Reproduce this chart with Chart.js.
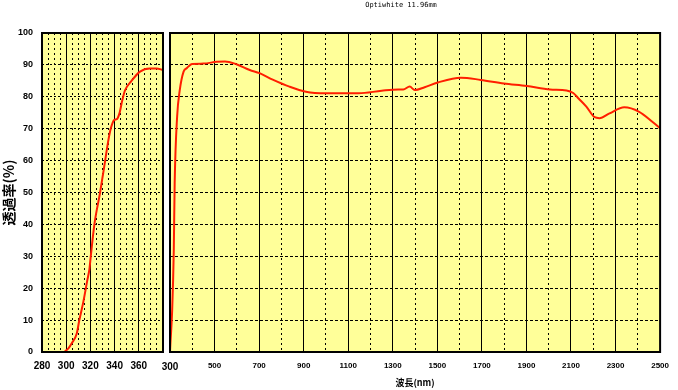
<!DOCTYPE html>
<html>
<head>
<meta charset="utf-8">
<script src="https://cdn.jsdelivr.net/npm/chart.js@4"></script>
<style>
  body { margin: 0; background: #fff; }
  #wrap { position: relative; width: 678px; height: 390px; }
  #wrap canvas { position: absolute; left: 0; top: 0; }
  #title { position: absolute; left: 341px; top: 1px; width: 120px; text-align: center;
           font: 7px 'DejaVu Sans Mono', monospace; line-height: 8px; color: #000; }
</style>
</head>
<body>
<div id="wrap">
  <canvas id="right-chart" width="678" height="390"></canvas>
  <canvas id="left-chart" width="678" height="390"></canvas>
  <div id="title">Optiwhite 11.96mm</div>
</div>
<script>
// left panel: 280-380 nm, zoomed UV edge
const leftWavelength = [280, 290, 298, 300, 302, 304.7, 308.8, 310.7, 314.2, 317.5, 319.2, 320.3, 323.3, 328, 332.2, 334.9, 336.8, 339.6, 341.9, 344, 346.4, 348.6, 354, 361, 369, 374.6, 380];
const leftTransmit = [0, 0, 0, 0.5, 1.2, 2.8, 5.9, 9.7, 15.8, 22.6, 26, 30, 40, 50, 60, 66.5, 70, 72.7, 73, 74.8, 79, 82, 85, 87.9, 88.9, 88.9, 88.4];

// right panel: 300-2500 nm
const rightWavelength = [300, 302, 309.7, 317, 321, 332, 343.6, 361, 376, 398.6, 450, 510, 547, 598, 658, 702, 761, 836, 910, 998, 1147, 1250, 1324, 1347, 1376, 1399, 1443, 1502, 1606, 1695, 1799, 1902, 2006, 2080, 2110, 2135, 2169, 2206, 2228, 2273, 2339, 2406, 2465, 2500];
const rightTransmit = [0, 2.8, 13, 32, 53, 73.8, 82, 87.9, 89, 90.3, 90.4, 91, 91.1, 90.2, 88.4, 87.4, 85.4, 83.2, 81.6, 81.1, 81.1, 81.9, 82.3, 82.3, 83.2, 82.1, 83, 84.5, 86, 85.3, 84.2, 83.4, 82.3, 82, 81.2, 79.4, 76.9, 73.6, 73.3, 74.8, 76.7, 75.3, 72.2, 70.1];

const leftTicks = [280, 300, 320, 340, 360, 380];
const leftTickLabels = ['280', '300', '320', '340', '360', ''];
const rightTicks = [300, 500, 700, 900, 1100, 1300, 1500, 1700, 1900, 2100, 2300, 2500];

const FONT = "'Liberation Sans', Arial, sans-serif";
const CJK = "'Noto Sans CJK JP', sans-serif";
const LINE = '#ff1e00';

const panelFrame = {
    id: 'panelFrame',
    beforeDraw(chart) {
        const { ctx, chartArea: a } = chart;
        ctx.save();
        ctx.fillStyle = '#ffff99';
        ctx.fillRect(a.left, a.top, a.width, a.height);
        ctx.restore();
    },
    afterDraw(chart) {
        const { ctx, chartArea: a } = chart;
        ctx.save();
        ctx.strokeStyle = '#000';
        ctx.lineWidth = 2;
        ctx.strokeRect(a.left, a.top, a.width, a.height);
        ctx.restore();
    }
};

function curve(xs, ys) {
    return {
        data: xs.map((x, i) => ({ x, y: ys[i] })),
        borderColor: LINE,
        borderWidth: 2,
        pointRadius: 0,
        fill: false,
        cubicInterpolationMode: 'monotone',
        xAxisID: 'x',
        yAxisID: 'y'
    };
}

function minorAxis(min, max, step) {
    return {
        type: 'linear', position: 'bottom', min, max,
        ticks: { display: false, stepSize: step },
        grid: { color: '#000', lineWidth: 1, drawTicks: false },
        border: { display: false, dash: [2, 3] },
        afterFit: s => { s.height = 0; }
    };
}

new Chart(document.getElementById('left-chart'), {
    type: 'line',
    data: { datasets: [curve(leftWavelength, leftTransmit)] },
    options: {
        responsive: false,
        animation: false,
        layout: { padding: { left: 0, top: 33, right: 515, bottom: 0 } },
        plugins: { legend: { display: false }, tooltip: { enabled: false } },
        scales: {
            xm: minorAxis(280, 380, 5),
            x: {
                type: 'linear', position: 'bottom', min: 280, max: 380,
                afterBuildTicks: s => { s.ticks = leftTicks.map(v => ({ value: v })); },
                ticks: {
                    color: '#000', padding: 8, maxRotation: 0, autoSkip: false,
                    font: { family: FONT, size: 10, weight: 'bold' },
                    callback: v => leftTickLabels[leftTicks.indexOf(v)]
                },
                grid: { color: '#000', lineWidth: 1, drawTicks: false },
                border: { display: false },
                afterFit: s => { s.height = 38; }
            },
            y: {
                min: 0, max: 100,
                ticks: { stepSize: 10, color: '#000', padding: 9, font: { family: FONT, size: 9, weight: 'bold' } },
                grid: { color: '#000', lineWidth: 1, drawTicks: false },
                border: { display: false, dash: [2, 2] },
                title: { display: true, text: '透過率(%)', color: '#000', padding: 0,
                         font: { family: CJK, size: 14, weight: 'bold' } },
                afterFit: s => { s.width = 42; }
            }
        }
    },
    plugins: [panelFrame]
});

new Chart(document.getElementById('right-chart'), {
    type: 'line',
    data: { datasets: [curve(rightWavelength, rightTransmit)] },
    options: {
        responsive: false,
        animation: false,
        layout: { padding: { left: 170, top: 33, right: 13, bottom: 0 } },
        plugins: { legend: { display: false }, tooltip: { enabled: false } },
        scales: {
            xm: minorAxis(300, 2500, 100),
            x: {
                type: 'linear', position: 'bottom', min: 300, max: 2500,
                afterBuildTicks: s => { s.ticks = rightTicks.map(v => ({ value: v })); },
                ticks: {
                    color: '#000', padding: 9, maxRotation: 0, autoSkip: false,
                    font: c => ({ family: FONT, size: c.tick && c.tick.value === 300 ? 10 : 8, weight: 'bold' }),
                    callback: v => String(v)
                },
                grid: { color: '#000', lineWidth: 1, drawTicks: false },
                border: { display: false },
                title: { display: true, text: '波長(nm)', color: '#000', padding: { top: 0, bottom: 2 },
                         font: { family: CJK, size: 9, weight: 'bold' } },
                afterFit: s => { s.height = 38; }
            },
            y: {
                min: 0, max: 100,
                ticks: { display: false, stepSize: 10 },
                grid: { color: '#000', lineWidth: 1, drawTicks: false },
                border: { display: false, dash: [3, 2] },
                afterFit: s => { s.width = 0; }
            }
        }
    },
    plugins: [panelFrame]
});
</script>
</body>
</html>
